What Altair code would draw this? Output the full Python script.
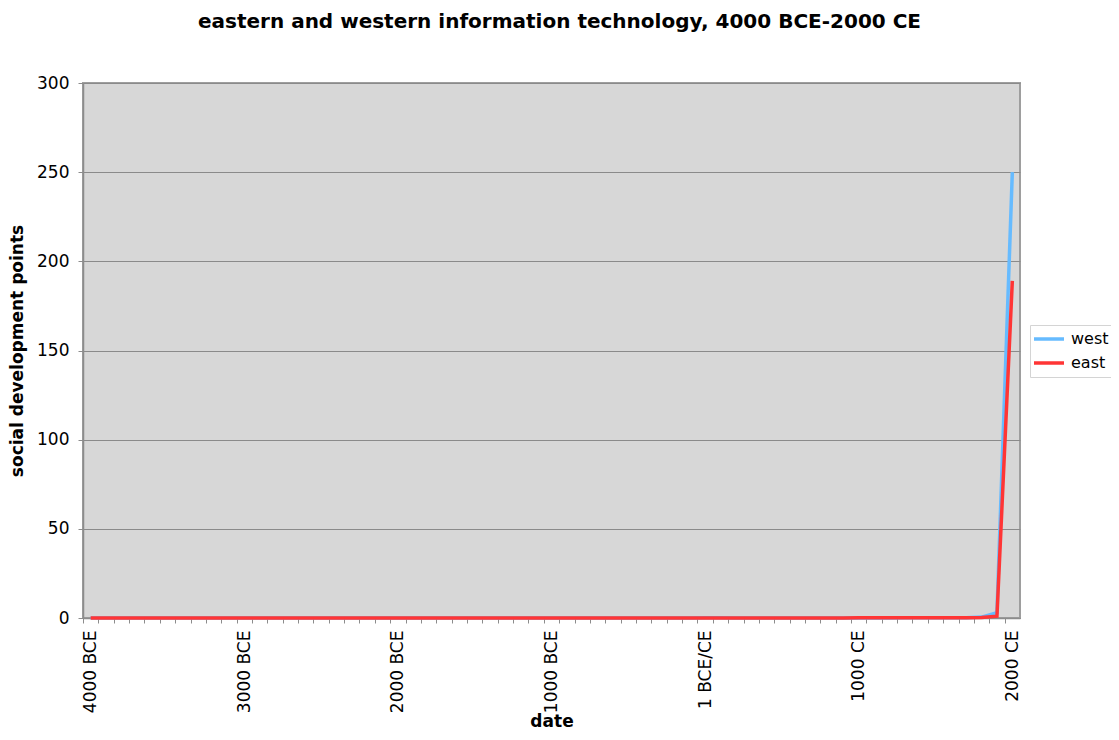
import altair as alt
import pandas as pd

# categories: one point every 100 years, 4000 BCE .. 2000 CE
years = list(range(-4000, 2001, 100))

west = [
    0, 0, 0, 0, 0, 0, 0, 0, 0, 0,
    0.01, 0.01, 0.01, 0.01, 0.01, 0.01, 0.01, 0.01, 0.01, 0.01,
    0.01, 0.01, 0.01, 0.01, 0.01, 0.02, 0.02, 0.02, 0.02, 0.02,
    0.02, 0.02, 0.02, 0.03, 0.03, 0.03, 0.04, 0.05, 0.06, 0.07,
    0.08, 0.08, 0.07, 0.07, 0.06, 0.05, 0.05, 0.05, 0.05, 0.05,
    0.06, 0.06, 0.07, 0.08, 0.08, 0.1, 0.12, 0.15, 0.5, 3.0,
    250,
]
east = [
    0, 0, 0, 0, 0, 0, 0, 0, 0, 0,
    0, 0, 0, 0, 0, 0, 0, 0, 0, 0,
    0.01, 0.01, 0.01, 0.01, 0.01, 0.01, 0.01, 0.01, 0.01, 0.01,
    0.01, 0.01, 0.01, 0.02, 0.02, 0.02, 0.02, 0.03, 0.03, 0.04,
    0.05, 0.05, 0.05, 0.05, 0.05, 0.05, 0.06, 0.06, 0.07, 0.07,
    0.08, 0.08, 0.09, 0.1, 0.1, 0.11, 0.12, 0.13, 0.3, 1.0,
    189,
]

label_years = [-4000, -3000, -2000, -1000, 0, 1000, 2000]
tick_labels = ["4000 BCE", "3000 BCE", "2000 BCE", "1000 BCE", "1 BCE/CE", "1000 CE", "2000 CE"]

rows = []
for y, w, e in zip(years, west, east):
    rows.append({"year": y, "series": "west", "value": w})
    rows.append({"year": y, "series": "east", "value": e})
df = pd.DataFrame(rows)

label_expr = "''"
for ly, lt in reversed(list(zip(label_years, tick_labels))):
    label_expr = f"datum.value == {ly} ? '{lt}' : ({label_expr})"

W, H = 937, 535
half = W / len(years) / 2.0
FONT = "DejaVu Sans"

xscale = alt.Scale(domain=[years[0] - 50, years[-1] + 50], nice=False, zero=False)
yscale = alt.Scale(domain=[0, 300], nice=False)

x_enc = alt.X(
    "year:Q",
    scale=xscale,
    title="date",
    axis=alt.Axis(
        values=years,
        labelExpr=label_expr,
        tickOffset=-half,
        labelOffset=half,
        labelAngle=-90,
        labelOverlap=False,
        labelFlush=False,
        tickSize=5,
        labelPadding=7,
        grid=False,
        titlePadding=1,
    ),
)
y_enc = alt.Y(
    "value:Q",
    scale=yscale,
    title="social development points",
    axis=alt.Axis(values=[0, 50, 100, 150, 200, 250, 300], tickSize=5, labelPadding=9,
                  titlePadding=10),
)
color_enc = alt.Color(
    "series:N",
    scale=alt.Scale(domain=["west", "east"], range=["#66BBFF", "#FF3535"]),
    title=None,
    legend=alt.Legend(
        orient="none", legendX=947, legendY=242, symbolType="stroke",
        symbolStrokeWidth=3.5, symbolSize=900, clipHeight=24, fillColor="white",
        strokeColor="#d4d4d4", padding=2, labelFontSize=16, labelFont=FONT,
        labelColor="black", rowPadding=0, labelOffset=5,
    ),
)

base = alt.Chart(df)
west_line = base.transform_filter(alt.datum.series == "west").mark_line(strokeWidth=3.5).encode(
    x=x_enc, y=y_enc, color=color_enc)
east_line = base.transform_filter(alt.datum.series == "east").mark_line(strokeWidth=3.5).encode(
    x=x_enc, y=y_enc, color=color_enc)

chart = (
    alt.layer(west_line, east_line)
    .properties(
        width=W, height=H,
        autosize=alt.AutoSizeParams(type="none"),
        padding={"left": 75, "top": 75, "right": 91, "bottom": 114},
        title=alt.TitleParams(
            "eastern and western information technology, 4000 BCE-2000 CE",
            font=FONT, fontSize=20, fontWeight="bold", anchor="middle",
            frame="group", dx=8, offset=42, color="black",
        ),
    )
    .configure_view(fill="#D7D7D7", stroke="#9E9E9E", strokeWidth=2)
    .configure_axis(
        labelFont=FONT, titleFont=FONT, labelFontSize=17, titleFontSize=17,
        titleFontWeight="bold", labelColor="black", titleColor="black",
        domainColor="#8c8c8c", tickColor="#8c8c8c", gridColor="#8a8a8a",
        domainWidth=1.5, tickWidth=1,
    )
    .configure_axisY(gridWidth=1)
)

chart.save("out.html", embed_options={"renderer": "svg", "actions": False})
